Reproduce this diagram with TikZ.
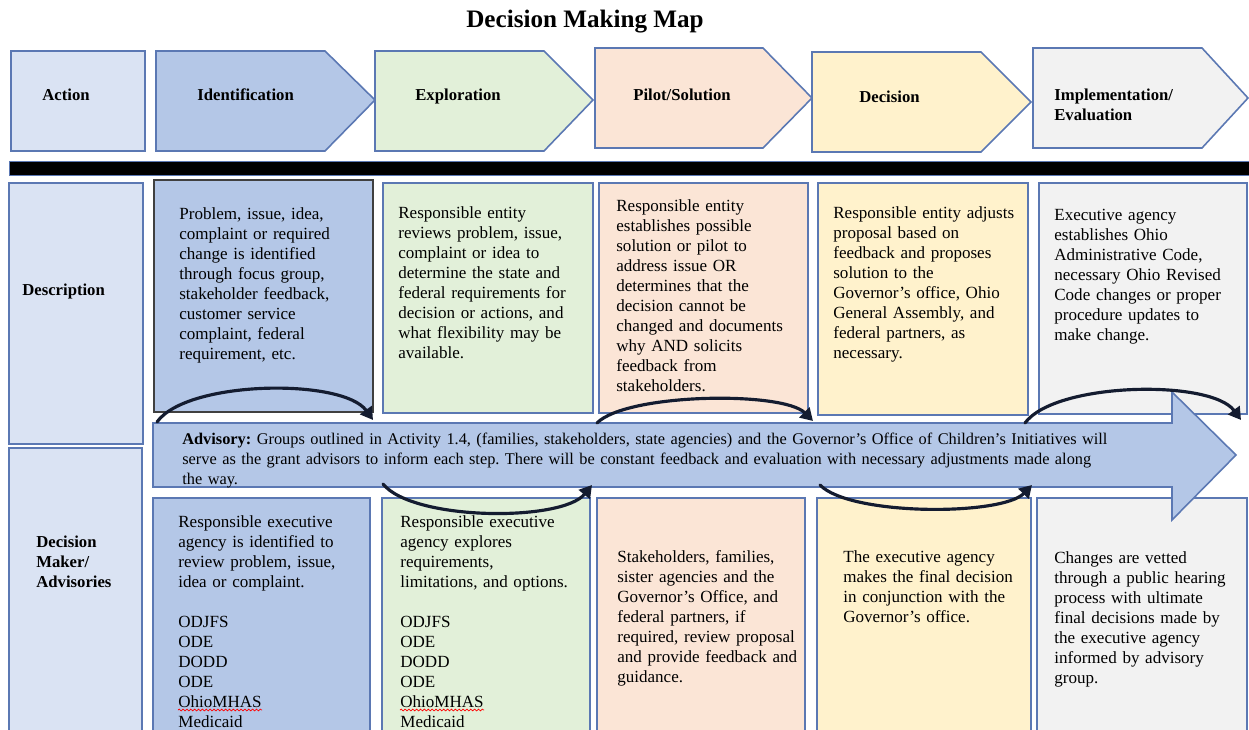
\documentclass[tikz,border=0pt]{standalone}
\usepackage{fontspec}
\setmainfont{Liberation Serif}
\frenchspacing
\usetikzlibrary{arrows.meta,decorations.pathmorphing}

\definecolor{edge}{HTML}{5B78B3}
\definecolor{lblfill}{HTML}{DAE3F3}
\definecolor{idfill}{HTML}{B4C7E7}
\definecolor{exfill}{HTML}{E2F0D9}
\definecolor{pifill}{HTML}{FBE5D6}
\definecolor{defill}{HTML}{FFF2CC}
\definecolor{imfill}{HTML}{F2F2F2}
\definecolor{loopclr}{HTML}{141C30}

\begin{document}
\begin{tikzpicture}[x=0.02cm,y=-0.02cm,
	cell/.style={draw=edge,line width=0.9pt},
	hd/.style={anchor=base west,inner sep=0pt,text width=3cm,align=left,font=\bfseries\fontsize{9.5}{11.4}\selectfont},
	txt/.style={anchor=base west,inner sep=0pt,text width=4.3cm,align=left,font=\fontsize{9.7}{11.4}\selectfont},
	fb/.style={draw=loopclr,line width=1.8pt,line cap=round,-{Triangle[length=7pt,width=8pt]}},
	squig/.style={draw=red,line width=0.4pt,decorate,decoration={snake,amplitude=0.5pt,segment length=2.2pt}}]

\useasboundingbox (0,0) rectangle (1249,730);
\clip (0,0) rectangle (1249,730);

\node[anchor=base,inner sep=0pt,font=\bfseries\fontsize{14.3}{16}\selectfont] (title) at (585,28) {Decision Making Map};

% header row
\draw[cell,fill=lblfill] (11,51) rectangle (145,151);
\draw[cell,fill=idfill] (156,51) -- (325,51) -- (375,100) -- (325,151) -- (156,151) -- cycle;
\draw[cell,fill=exfill] (375,51) -- (544,51) -- (593,100) -- (544,151) -- (375,151) -- cycle;
\draw[cell,fill=pifill] (595,48) -- (763,48) -- (812,98) -- (763,148) -- (595,148) -- cycle;
\draw[cell,fill=defill] (812,52) -- (981,52) -- (1031,102) -- (981,152) -- (812,152) -- cycle;
\draw[cell,fill=imfill] (1033,48) -- (1202,48) -- (1248,98) -- (1202,148) -- (1033,148) -- cycle;

\node[hd] (action) at (42,100) {Action};
\node[hd] (ident) at (197,100) {Identification};
\node[hd] (explo) at (415,100) {Exploration};
\node[hd] (pilot) at (633,100) {Pilot/Solution};
\node[hd] (decis) at (859,102) {Decision};
\node[hd] (implm) at (1054,100) {Implementation/\\Evaluation};

% black divider
\draw[draw=edge,fill=black] (9,161) rectangle (1260,175);

% description row
\draw[cell,fill=lblfill] (9,183) rectangle (143,444);
\draw[draw=black!75,line width=0.9pt,fill=idfill] (154,180) rectangle (373,412);
\draw[cell,fill=exfill] (383,183) rectangle (593,413);
\draw[cell,fill=pifill] (599,183) rectangle (808,413);
\draw[cell,fill=defill] (818,183) rectangle (1028,415);
\draw[cell,fill=imfill] (1039,183) rectangle (1247,414);

\node[hd] (desc) at (22,295) {Description};
\node[txt] (itop) at (179,219) {Problem, issue, idea,\\complaint or required\\change is identified\\through focus group,\\stakeholder feedback,\\customer service\\complaint, federal\\requirement, etc.};
\node[txt] (etop) at (398,218) {Responsible entity\\reviews problem, issue,\\complaint or idea to\\determine the state and\\federal requirements for\\decision or actions, and\\what flexibility may be\\available.};
\node[txt] (ptop) at (616,211) {Responsible entity\\establishes possible\\solution or pilot to\\address issue OR\\determines that the\\decision cannot be\\changed and documents\\why AND solicits\\feedback from\\stakeholders.};
\node[txt] (dtop) at (833,218) {Responsible entity adjusts\\proposal based on\\feedback and proposes\\solution to the\\Governor’s office, Ohio\\General Assembly, and\\federal partners, as\\necessary.};
\node[txt] (mtop) at (1054,220) {Executive agency\\establishes Ohio\\Administrative Code,\\necessary Ohio Revised\\Code changes or proper\\procedure updates to\\make change.};

% decision maker row
\draw[cell,fill=lblfill] (9,448) rectangle (142,740);
\draw[cell,fill=idfill] (153,498) rectangle (370,740);
\draw[cell,fill=exfill] (382,498) rectangle (590,740);
\draw[cell,fill=pifill] (597,498) rectangle (805,740);
\draw[cell,fill=defill] (817,498) rectangle (1031,740);
\draw[cell,fill=imfill] (1037,498) rectangle (1247,740);

\node[hd] (dmaker) at (36,547) {Decision\\Maker/\\Advisories};
\node[txt] (ibot) at (178,527) {Responsible executive\\agency is identified to\\review problem, issue,\\idea or complaint.\\[11.4pt]ODJFS\\ODE\\DODD\\ODE\\OhioMHAS\\Medicaid};
\node[txt] (ebot) at (400,527) {Responsible executive\\agency explores\\requirements,\\limitations, and options.\\[11.4pt]ODJFS\\ODE\\DODD\\ODE\\OhioMHAS\\Medicaid};
\node[txt] (pbot) at (617,562) {Stakeholders, families,\\sister agencies and the\\Governor’s Office, and\\federal partners, if\\required, review proposal\\and provide feedback and\\guidance.};
\node[txt] (dbot) at (843,562) {The executive agency\\makes the final decision\\in conjunction with the\\Governor’s office.};
\node[txt] (mbot) at (1054,563) {Changes are vetted\\through a public hearing\\process with ultimate\\final decisions made by\\the executive agency\\informed by advisory\\group.};

\draw[squig] ([shift={(0,183)}]ibot.base west) -- +(84,0);
\draw[squig] ([shift={(0,183)}]ebot.base west) -- +(84,0);

% advisory arrow
\draw[cell,fill=idfill] (153,423) -- (1172,423) -- (1172,392) -- (1236,455) -- (1172,520) -- (1172,487) -- (153,487) -- cycle;
\node[txt,text width=19.5cm,font=\fontsize{9.3}{11.4}\selectfont] (advis) at (182,444) {\textbf{Advisory:} Groups outlined in Activity 1.4, (families, stakeholders, state agencies) and the Governor’s Office of Children’s Initiatives will\\serve as the grant advisors to inform each step. There will be constant feedback and evaluation with necessary adjustments made along\\the way.};

% feedback loops
\coordinate (l1a) at (157,422);
\coordinate (l1b) at (373,420);
\coordinate (l2a) at (383,484);
\coordinate (l2b) at (592,485);
\coordinate (l3a) at (597,423);
\coordinate (l3b) at (813,421);
\coordinate (l4a) at (820,485);
\coordinate (l4b) at (1032,485);
\coordinate (l5a) at (1025,423);
\coordinate (l5b) at (1241,420);

\draw[fb] (l1a) .. controls +(30,-42) and +(-30,-42) .. (l1b);
\draw[fb] (l2a) .. controls +(30,37) and +(-30,37) .. (l2b);
\draw[fb] (l3a) .. controls +(30,-30) and +(-30,-30) .. (l3b);
\draw[fb] (l4a) .. controls +(30,31) and +(-30,31) .. (l4b);
\draw[fb] (l5a) .. controls +(30,-41) and +(-30,-41) .. (l5b);

\end{tikzpicture}
\end{document}
